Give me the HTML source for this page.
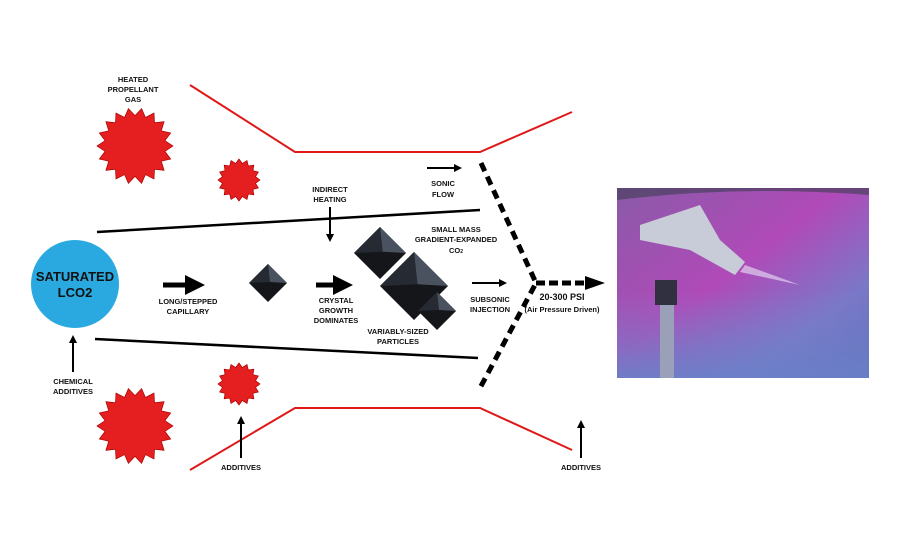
<!DOCTYPE html><html><head><style>body{margin:0;background:#fff}svg{display:block}text{font-family:"Liberation Sans",sans-serif;font-weight:bold;fill:#111;text-anchor:middle}</style></head><body>
<svg id="s" width="900" height="550" viewBox="0 0 900 550" xmlns="http://www.w3.org/2000/svg">
<defs>
<marker id="a" markerWidth="4" markerHeight="4" refX="2" refY="2" orient="auto" markerUnits="strokeWidth"><path d="M0,0L4,2L0,4z" fill="#000"/></marker>
<linearGradient id="ph" x1="0" y1="0" x2="1" y2="1"><stop offset="0" stop-color="#8a5aa8"/><stop offset=".45" stop-color="#b04ab8"/><stop offset=".75" stop-color="#7a78c8"/><stop offset="1" stop-color="#5a6ab8"/></linearGradient>
<linearGradient id="bt" x1="0" y1="0" x2="0" y2="1"><stop offset="0" stop-color="#7a80c8" stop-opacity="0"/><stop offset="1" stop-color="#6a80c8" stop-opacity=".9"/></linearGradient>
</defs>
<polyline points="190,85 295,152 480,152 572,112" fill="none" stroke="#e01818" stroke-width="2"/>
<polyline points="190,470 295,408 480,408 572,450" fill="none" stroke="#e01818" stroke-width="2"/>
<line x1="97" y1="232" x2="480" y2="210" stroke="#000" stroke-width="2.5"/>
<line x1="95" y1="339" x2="478" y2="358" stroke="#000" stroke-width="2.5"/>
<polyline points="481,163 536,283 480,388" fill="none" stroke="#000" stroke-width="5" stroke-dasharray="9,6"/>
<line x1="536" y1="283" x2="585" y2="283" stroke="#000" stroke-width="5" stroke-dasharray="9,4"/>
<path d="M585,276L605,283L585,290z"/>
<circle cx="75" cy="284" r="44" fill="#29a9e0"/>
<text x="75" y="281" font-size="13" fill="#1a2a4a">SATURATED</text>
<text x="75" y="297" font-size="13" fill="#1a2a4a">LCO2</text>
<g id="stars"></g>
<g stroke="#000" fill="none">
<line x1="163" y1="285" x2="195" y2="285" stroke-width="5" marker-end="url(#a)"/>
<line x1="316" y1="285" x2="343" y2="285" stroke-width="5" marker-end="url(#a)"/>
<line x1="330" y1="207" x2="330" y2="238" stroke-width="2" marker-end="url(#a)"/>
<line x1="427" y1="168" x2="458" y2="168" stroke-width="2" marker-end="url(#a)"/>
<line x1="472" y1="283" x2="503" y2="283" stroke-width="2" marker-end="url(#a)"/>
<line x1="73" y1="372" x2="73" y2="339" stroke-width="2" marker-end="url(#a)"/>
<line x1="241" y1="458" x2="241" y2="420" stroke-width="2" marker-end="url(#a)"/>
<line x1="581" y1="458" x2="581" y2="424" stroke-width="2" marker-end="url(#a)"/>
</g>
<g id="pyr"></g>
<g font-size="7.5">
<text x="133" y="82">HEATED</text><text x="133" y="92">PROPELLANT</text><text x="133" y="102">GAS</text>
<text x="330" y="192">INDIRECT</text><text x="330" y="202">HEATING</text>
<text x="443" y="186">SONIC</text><text x="443" y="197">FLOW</text>
<text x="456" y="232">SMALL MASS</text><text x="456" y="242">GRADIENT-EXPANDED</text><text x="456" y="253">CO<tspan font-size="5">2</tspan></text>
<text x="188" y="304">LONG/STEPPED</text><text x="188" y="314">CAPILLARY</text>
<text x="336" y="303">CRYSTAL</text><text x="336" y="313">GROWTH</text><text x="336" y="323">DOMINATES</text>
<text x="490" y="302">SUBSONIC</text><text x="490" y="312">INJECTION</text>
<text x="398" y="334">VARIABLY-SIZED</text><text x="398" y="344">PARTICLES</text>
<text x="73" y="384">CHEMICAL</text><text x="73" y="394">ADDITIVES</text>
<text x="241" y="470">ADDITIVES</text><text x="581" y="470">ADDITIVES</text>
<text x="562" y="300" font-size="9">20-300 PSI</text>
<text x="562" y="312" font-size="7.5">(Air Pressure Driven)</text>
</g>
<rect x="617" y="188" width="252" height="190" fill="url(#ph)"/>
<path d="M617,200Q740,185 869,195L869,188L617,188z" fill="#4a4060" opacity=".7"/>
<rect x="617" y="290" width="252" height="88" fill="url(#bt)"/>
<path d="M640,225L700,205L720,240L745,262L735,275L690,250L640,240z" fill="#c8ccd8"/>
<path d="M745,265L800,285L740,272z" fill="#e0d0f0" opacity=".7"/>
<rect x="660" y="300" width="14" height="78" fill="#9aa0b8"/>
<rect x="655" y="280" width="22" height="25" fill="#303040"/>
</svg>
<script>
var ns="http://www.w3.org/2000/svg",s=document.getElementById('stars');
[[135,146,38],[239,180,21],[135,426,38],[239,384,21]].forEach(function(c){var n=c[2]>30?18:16,p=[];for(var i=0;i<2*n;i++){var r=i%2?c[2]*0.8:c[2],t=Math.PI*i/n;p.push((c[0]+r*Math.cos(t)).toFixed(1)+','+(c[1]+r*Math.sin(t)).toFixed(1));}var e=document.createElementNS(ns,'polygon');e.setAttribute('points',p.join(' '));e.setAttribute('fill','#e51f1f');e.setAttribute('stroke','#a00');e.setAttribute('stroke-width','.7');s.appendChild(e);});
var g=document.getElementById('pyr');
[[268,283,19],[380,253,26],[414,286,34],[437,311,19]].forEach(function(c){var x=c[0],y=c[1],h=c[2];function poly(pts,f){var e=document.createElementNS(ns,'polygon');e.setAttribute('points',pts);e.setAttribute('fill',f);g.appendChild(e);}
poly((x-h)+','+y+' '+x+','+(y-h)+' '+(x+h)+','+y+' '+x+','+(y+h),'#15161a');
poly(x+','+(y-h)+' '+(x+h)+','+y+' '+(x+h*0.1)+','+(y-h*0.05),'#4a5260');
poly(x+','+(y-h)+' '+(x-h)+','+y+' '+(x+h*0.1)+','+(y-h*0.05),'#262a32');});
</script>
</body></html>
